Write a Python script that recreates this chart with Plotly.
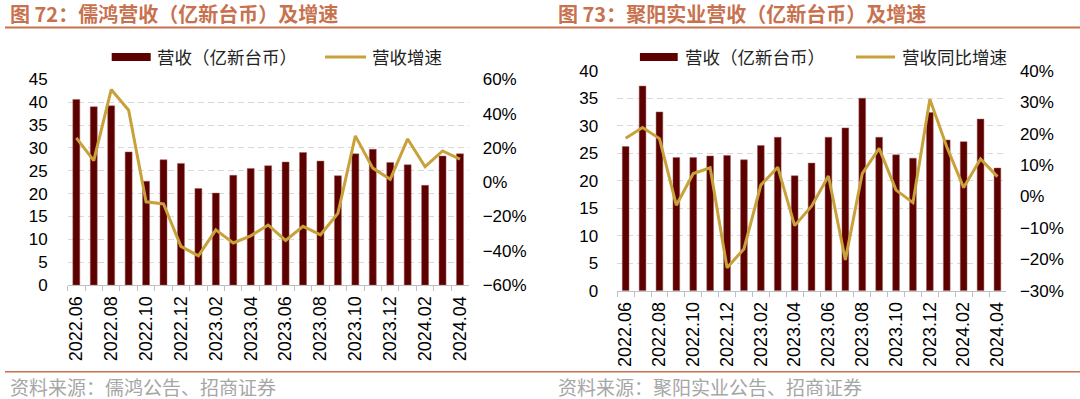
import plotly.graph_objects as go

# ---------------- data ----------------
months = ["2022.06", "2022.07", "2022.08", "2022.09", "2022.10", "2022.11", "2022.12",
          "2023.01", "2023.02", "2023.03", "2023.04", "2023.05", "2023.06", "2023.07",
          "2023.08", "2023.09", "2023.10", "2023.11", "2023.12", "2024.01", "2024.02",
          "2024.03", "2024.04"]
tick_labels = [m if i % 2 == 0 else "" for i, m in enumerate(months)]

eclat_rev = [40.6, 39.0, 39.2, 29.1, 22.7, 27.4, 26.6, 21.1, 20.1, 24.0, 25.5, 26.1,
             26.9, 29.0, 27.1, 23.9, 28.7, 29.7, 26.8, 26.3, 21.8, 28.2, 28.7]
eclat_growth = [25.8, 12.6, 54.0, 42.0, -11.5, -12.7, -37.5, -43.0, -27.8, -35.5, -31.3,
                -25.0, -34.0, -25.8, -30.7, -18.2, 27.0, 8.2, 1.7, 25.2, 9.0, 18.2, 13.4]

mh_rev = [26.2, 37.2, 32.5, 24.2, 24.2, 24.5, 24.6, 23.8, 26.4, 27.9, 20.9, 23.2,
          27.9, 29.6, 35.0, 27.9, 24.7, 24.1, 32.4, 27.4, 27.1, 31.2, 22.3]
mh_growth = [18.5, 21.9, 18.4, -2.8, 7.3, 9.1, -22.7, -16.7, 3.6, 9.3, -9.3, -3.1,
             6.5, -20.2, 7.3, 15.3, 2.0, -2.0, 30.9, 15.8, 2.8, 11.9, 6.3]

title_left = "图 72：儒鸿营收（亿新台币）及增速"
title_right = "图 73：聚阳实业营收（亿新台币）及增速"
source_left = "资料来源：儒鸿公告、招商证券"
source_right = "资料来源：聚阳实业公告、招商证券"
bar_name = "营收（亿新台币）"
line_name_left = "营收增速"
line_name_right = "营收同比增速"

# ---------------- style ----------------
W, H = 1080, 399
BAR = "#5C0000"
GOLD = "#C9A13B"
TITLE_C = "#C8714E"
GRID = "#D9D9D9"
AXIS = "#BFBFBF"
NUM_FONT = "Liberation Sans, Arial, sans-serif"
CJK_FONT = "Noto Sans CJK SC, sans-serif"


def px(x):
    return x / W


def py(y):
    return 1 - y / H


fig = go.Figure()

# left chart
fig.add_trace(go.Bar(x=months, y=eclat_rev, name=bar_name,
                     marker=dict(color=BAR, line=dict(color="#A06060", width=0.5)),
                     xaxis="x", yaxis="y", showlegend=False))
fig.add_trace(go.Scatter(x=months, y=eclat_growth, name=line_name_left, mode="lines",
                         line=dict(color=GOLD, width=3), xaxis="x", yaxis="y2", showlegend=False))
# right chart
fig.add_trace(go.Bar(x=months, y=mh_rev, name=bar_name,
                     marker=dict(color=BAR, line=dict(color="#A06060", width=0.5)),
                     xaxis="x2", yaxis="y3", showlegend=False))
fig.add_trace(go.Scatter(x=months, y=mh_growth, name=line_name_right, mode="lines",
                         line=dict(color=GOLD, width=3), xaxis="x2", yaxis="y4", showlegend=False))

xcommon = dict(type="category", tickmode="array", tickvals=months, ticktext=tick_labels,
               tickangle=-90, tickson="boundaries", ticks="outside", ticklen=5, tickcolor=AXIS,
               showline=True, linecolor=AXIS, linewidth=1, showgrid=False, zeroline=False,
               tickfont=dict(family=NUM_FONT, size=18, color="#000"), ticklabelstandoff=3)
ycommon_left = dict(showline=False, ticks="", showgrid=True, gridcolor=GRID, griddash="6px,4px",
                    gridwidth=1, zeroline=False, tickfont=dict(family=NUM_FONT, size=17, color="#000"))
ycommon_right = dict(showline=False, ticks="", showgrid=False, zeroline=False, side="right",
                     ticksuffix="%", tickfont=dict(family=NUM_FONT, size=17, color="#000"))

fig.update_layout(
    template="none",
    width=W, height=H, autosize=False,
    margin=dict(l=0, r=0, t=0, b=0),
    paper_bgcolor="white", plot_bgcolor="white",
    bargap=0.6,
    xaxis=dict(xcommon, domain=[px(67.6), px(468.7)], anchor="y"),
    yaxis=dict(ycommon_left, domain=[py(285), py(79.3)], range=[0, 45], dtick=5, anchor="x",
               ticklabelstandoff=19),
    yaxis2=dict(ycommon_right, overlaying="y", range=[-60, 60], dtick=20, anchor="x",
                ticklabelstandoff=13),
    xaxis2=dict(xcommon, domain=[px(617.2), px(1005.9)], anchor="y3"),
    yaxis3=dict(ycommon_left, domain=[py(290.7), py(70.7)], range=[0, 40], dtick=5, anchor="x2",
                ticklabelstandoff=18),
    yaxis4=dict(ycommon_right, overlaying="y3", range=[-30, 40], dtick=10, anchor="x2",
                ticklabelstandoff=13),
)

# titles, rules and sources
ann = []
shapes = []
for x0, t in [(7.6, title_left), (555.5, title_right)]:
    ann.append(dict(x=px(x0), y=py(13.5), xref="paper", yref="paper", xanchor="left", yanchor="middle",
                    text="<b>" + t + "</b>", showarrow=False,
                    font=dict(family=CJK_FONT, size=20, color=TITLE_C)))
for x0, t in [(7.6, source_left), (555.5, source_right)]:
    ann.append(dict(x=px(x0), y=py(386.5), xref="paper", yref="paper", xanchor="left", yanchor="middle",
                    text=t, showarrow=False, font=dict(family=CJK_FONT, size=19, color="#A6A6A6")))
shapes.append(dict(type="line", xref="paper", yref="paper", x0=px(5), x1=px(1080), y0=py(27.5), y1=py(27.5),
                   line=dict(color=TITLE_C, width=2)))
shapes.append(dict(type="line", xref="paper", yref="paper", x0=px(5), x1=px(1080), y0=py(371.7), y1=py(371.7),
                   line=dict(color=TITLE_C, width=1.5)))

# legends (swatch + label)
LEG_Y = 57
for bx0, bx1, btx, lx0, lx1, ltx, lname in [
    (111.7, 150.7, 155, 325, 366, 370, line_name_left),
    (639.9, 677.7, 683, 856, 895, 900, line_name_right),
]:
    shapes.append(dict(type="rect", xref="paper", yref="paper", x0=px(bx0), x1=px(bx1),
                       y0=py(LEG_Y + 4), y1=py(LEG_Y - 4), fillcolor=BAR, line=dict(width=0)))
    shapes.append(dict(type="line", xref="paper", yref="paper", x0=px(lx0), x1=px(lx1),
                       y0=py(LEG_Y), y1=py(LEG_Y), line=dict(color=GOLD, width=3)))
    ann.append(dict(x=px(btx), y=py(LEG_Y), xref="paper", yref="paper", xanchor="left", yanchor="middle",
                    text=bar_name, showarrow=False, font=dict(family=CJK_FONT, size=17.5, color="#222")))
    ann.append(dict(x=px(ltx), y=py(LEG_Y), xref="paper", yref="paper", xanchor="left", yanchor="middle",
                    text=lname, showarrow=False, font=dict(family=CJK_FONT, size=17.5, color="#222")))

fig.update_layout(annotations=ann, shapes=shapes)

fig.write_html("out.html", config={"displayModeBar": False},
               post_script="document.body.style.margin='0';document.body.style.overflow='hidden';")
